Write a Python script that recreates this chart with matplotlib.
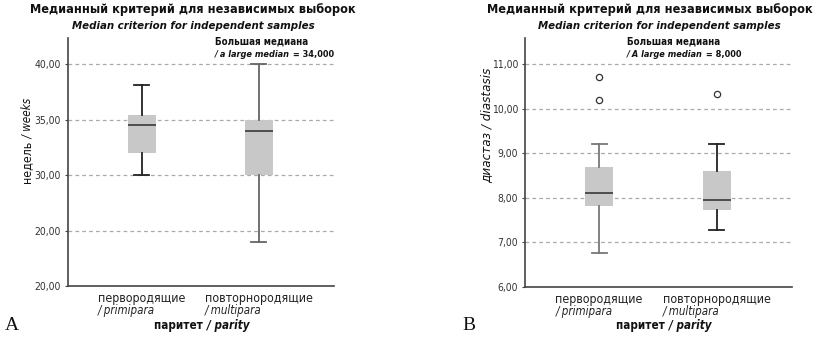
import matplotlib
matplotlib.use("Agg")
import matplotlib.pyplot as plt
from matplotlib import font_manager


def has_faces(name, stretch):
    fl = [f for f in font_manager.fontManager.ttflist if f.name == name
          and (stretch == "any" or f.stretch == stretch)]
    reg = any(f.style == "normal" and f.weight in (400, "normal", "regular") for f in fl)
    ita = any(f.style in ("italic", "oblique") for f in fl)
    bld = any(f.weight in (600, 700, "bold", "semibold") for f in fl)
    return reg and ita and bld


# pick a narrow sans face if one is installed, otherwise Open Sans
FAM, STR = "Open Sans", "normal"
for name, st in [("Open Sans Condensed", "any"), ("Liberation Sans Narrow", "any"),
                 ("DejaVu Sans", "condensed")]:
    if has_faces(name, st):
        FAM, STR = name, ("normal" if st == "any" else st)
        break
plt.rcParams["font.family"] = FAM
plt.rcParams["font.stretch"] = STR

groups = ["первородящие", "повторнородящие"]
groups_en = ["/ primipara", "/ multipara"]

# panel A: gestational age, weeks
weeks_stats = [
    dict(whislo=30.0, q1=32.0, med=34.5, q3=35.45, whishi=38.1, fliers=[]),
    dict(whislo=24.0, q1=30.0, med=34.0, q3=35.0, whishi=40.0, fliers=[]),
]
weeks_ticks = [20, 25, 30, 35, 40]
weeks_labels = ["20,00", "20,00", "30,00", "35,00", "40,00"]

# panel B: diastasis
diast_stats = [
    dict(whislo=6.77, q1=7.82, med=8.11, q3=8.68, whishi=9.2, fliers=[10.7, 10.2]),
    dict(whislo=7.28, q1=7.72, med=7.94, q3=8.6, whishi=9.2, fliers=[10.33]),
]
diast_ticks = [6, 7, 8, 9, 10, 11]
diast_labels = ["6,00", "7,00", "8,00", "9,00", "10,00", "11,00"]

fig = plt.figure(figsize=(8.18, 3.42), dpi=100)
axA = fig.add_axes([0.0831, 0.1637, 0.3252, 0.7251])
axB = fig.add_axes([0.6418, 0.1608, 0.3264, 0.7280])


def draw_panel(ax, stats, ticks, labels, ylim, whisk_cols):
    bp = ax.bxp(stats, positions=[1, 2], widths=0.24, patch_artist=True,
                showfliers=True, manage_ticks=False,
                boxprops=dict(facecolor="#c8c8c8", edgecolor="none"),
                medianprops=dict(color="#3a3a3a", linewidth=1.2),
                flierprops=dict(marker="o", markersize=4.5, markerfacecolor="white",
                                markeredgecolor="#333333", markeredgewidth=0.9))
    for i, c in enumerate(whisk_cols):
        for w in bp["whiskers"][2 * i:2 * i + 2]:
            w.set_color(c)
            w.set_linewidth(1.3)
        for cap in bp["caps"][2 * i:2 * i + 2]:
            cap.set_color(c)
            cap.set_linewidth(1.3)
            cap.set_xdata([i + 1 - 0.064, i + 1 + 0.064])
    ax.set_xlim(0.37, 2.64)
    ax.set_ylim(*ylim)
    ax.set_yticks(ticks)
    ax.set_yticklabels(labels, fontsize=7.5, color="#333333")
    ax.tick_params(axis="y", length=2, width=0.8, color="#444444", pad=3)
    ax.set_xticks([])
    for t in ticks[1:]:
        ax.axhline(t, color="#aaaaaa", linestyle=(0, (3, 2.5)), linewidth=0.9, zorder=0)
    for s in ["top", "right"]:
        ax.spines[s].set_visible(False)
    for s in ["left", "bottom"]:
        ax.spines[s].set_color("#444444")
        ax.spines[s].set_linewidth(1.2)
    # two-line category labels
    for x, g, e in zip([1, 2], groups, groups_en):
        t1 = ax.text(x, -0.025, g, transform=ax.get_xaxis_transform(),
                     ha="center", va="top", fontsize=8.9, color="#222222")
        ax.annotate(e, xy=(0, 0), xycoords=t1, xytext=(0, 1), textcoords="offset points",
                    ha="left", va="top", fontsize=8.3, style="italic", color="#222222")


draw_panel(axA, weeks_stats, weeks_ticks, weeks_labels, (20, 42.34),
           ["#222222", "#666666"])
draw_panel(axB, diast_stats, diast_ticks, diast_labels, (6, 11.58),
           ["#777777", "#222222"])

# titles
for xc1, xc2 in [(193 / 818, 193 / 818), (650 / 818, 659 / 818)]:
    fig.text(xc1, 1 - 10 / 342, "Медианный критерий для независимых выборок",
             ha="center", va="center", fontsize=9.1, fontweight="bold", color="#111111")
    fig.text(xc2, 1 - 26 / 342, "Median criterion for independent samples",
             ha="center", va="center", fontsize=8.2, fontweight="bold", style="italic",
             color="#111111")

# larger median notes
for ax, x0, en, val in [(axA, 0.553, "/ a large median", "= 34,000"),
                        (axB, 0.382, "/ A large median", "= 8,000")]:
    ax.text(x0, 0.985, "Большая медиана", transform=ax.transAxes, ha="left",
            va="center", fontsize=7.0, fontweight="bold", color="#111111")
    t = ax.text(x0, 0.935, en, transform=ax.transAxes, ha="left", va="center",
                fontsize=6.6, fontweight="bold", style="italic", color="#111111")
    ax.annotate(" " + val, xy=(1, 0.5), xycoords=t, ha="left", va="center",
                fontsize=6.6, fontweight="bold", color="#111111")

# y-axis titles
tA = fig.text(27 / 818, 1 - 183 / 342, "недель", rotation=90, ha="center",
              va="bottom", fontsize=8.8, color="#111111")
fig.canvas.draw()
bb = tA.get_window_extent()
fig.text(27 / 818, bb.y1 / 342, " / weeks", rotation=90, ha="center", va="bottom",
         fontsize=8.4, style="italic", color="#111111")
fig.text(487 / 818, 1 - 183 / 342, "диастаз / diastasis", rotation=90, ha="center",
         va="bottom", fontsize=9.6, style="italic", color="#111111")

# x-axis titles
for xc in [207 / 818, 669 / 818]:
    fig.text(xc, 1 - 326 / 342, "паритет ", ha="right", va="center",
             fontsize=8.4, fontweight="bold", color="#111111")
    fig.text(xc, 1 - 326 / 342, "/ parity", ha="left", va="center", fontsize=8.4,
             fontweight="bold", style="italic", color="#111111")

# panel letters
fig.text(12 / 818, 1 - 326 / 342, "A", ha="center", va="center", fontsize=14,
         family="Liberation Serif", stretch="normal", color="#111111")
fig.text(469 / 818, 1 - 326 / 342, "B", ha="center", va="center", fontsize=14,
         family="Liberation Serif", stretch="normal", color="#111111")

fig.savefig("out.png", dpi=100)
